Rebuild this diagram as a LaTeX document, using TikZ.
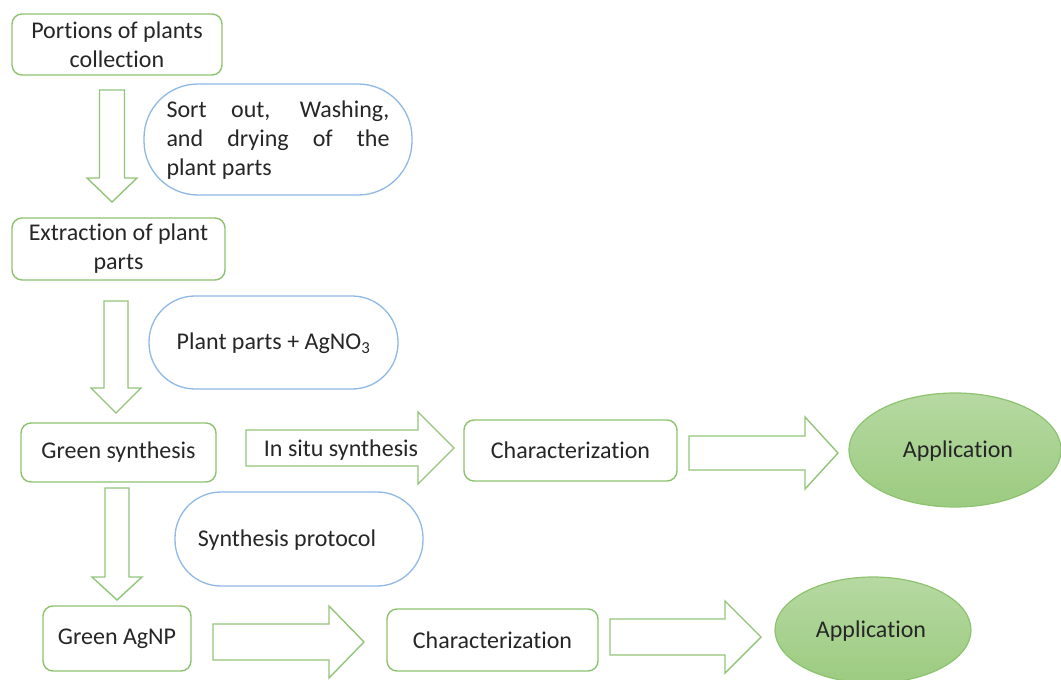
\documentclass[tikz,border=0pt]{standalone}
\usepackage{fontspec}
\setmainfont[Ligatures={NoCommon,NoContextual,NoRare},Contextuals={NoAlternate}]{Carlito}
\usetikzlibrary{shapes.geometric}
\definecolor{gbox}{HTML}{8DC26F}
\definecolor{garrow}{HTML}{92C47A}
\definecolor{bbox}{HTML}{8EB8E5}
\definecolor{txt}{HTML}{262626}
\definecolor{etop}{HTML}{B6D9A2}
\definecolor{ebot}{HTML}{9CCB80}
\newcommand\nti{t\kern0pt i}
\newcommand\harrowshape[6]{%
  \draw[blockarrow] (#1,#4-#5) -- (#2,#4-#5) -- (#2,#4-#6) -- (#3,#4) -- (#2,#4+#6) -- (#2,#4+#5) -- (#1,#4+#5) -- cycle;}
\newcommand\varrowshape[6]{%
  \draw[blockarrow] (#4-#5,#1) -- (#4-#5,#2) -- (#4-#6,#2) -- (#4,#3) -- (#4+#6,#2) -- (#4+#5,#2) -- (#4+#5,#1) -- cycle;}
\begin{document}
\begin{tikzpicture}[x=1pt,y=-1pt,
  every node/.style={text=txt,font=\fontsize{24}{29}\selectfont},
  gbx/.style={draw=gbox,line width=1.4pt,rounded corners=10pt,align=center,inner sep=0pt},
  bstad/.style={draw=bbox,line width=1.3pt,inner sep=0pt},
  blockarrow/.style={draw=garrow,line width=1.4pt,fill=white,line join=miter},
  appl/.style={ellipse,draw=gbox,line width=1.2pt,top color=etop,bottom color=ebot,inner sep=0pt}]
\useasboundingbox (0,0) rectangle (1061,680);
% boxes
\node[gbx,minimum width=210pt,minimum height=61pt] (b1) at (117,44.5) {Por\nti ons of plants\\collec\nti on};
\node[gbx,minimum width=213pt,minimum height=62pt] (b2) at (118.5,249) {Extrac\nti on of plant\\parts};
\node[gbx,minimum width=195pt,minimum height=59pt] (b3) at (118.5,452.5) {Green synthesis};
\node[gbx,minimum width=213pt,minimum height=61pt] (b4) at (570.5,450.5) {Characteriza\nti on};
\node[gbx,minimum width=148pt,minimum height=65pt] (b5) at (117,638.5) {Green AgNP};
\node[gbx,minimum width=211pt,minimum height=62pt] (b6) at (492.5,640) {Characteriza\nti on};
% stadium notes
\draw[bstad,rounded corners=54pt] (144,84) rectangle (412,195);
\node (s1) at (278,140.5) {\parbox{223pt}{\makebox[223pt][s]{Sort out, Washing,}\\\makebox[223pt][s]{and drying of the}\\plant parts}};
\draw[bstad,rounded corners=46pt] (149,296) rectangle (398,389);
\node (s2) at (273.5,343.5) {Plant parts + AgNO\textsubscript{3}};
\draw[bstad,rounded corners=46pt] (175,492) rectangle (423,586);
\node (s3) at (287,540) {Synthesis protocol};
% ellipses
\node[appl,minimum width=212pt,minimum height=114pt] (e1) at (955,450) {};
\node (t1) at (958,451) {Applica\nti on};
\node[appl,minimum width=196pt,minimum height=106pt] (e2) at (873,630) {};
\node (t2) at (871,631) {Applica\nti on};
% block arrows
\varrowshape{90}{178}{202}{112}{12.5}{25}
\varrowshape{301}{388}{413}{116}{12}{25}
\varrowshape{488}{577}{600}{117}{12}{25}
\harrowshape{246}{418}{454}{448}{18}{36}
\node (ins) at (341,450) {In situ synthesis};
\harrowshape{689}{805}{838}{453}{17}{36}
\harrowshape{213}{329}{364}{642}{18}{36}
\harrowshape{610}{725}{761}{637}{18}{36}
\end{tikzpicture}
\end{document}
